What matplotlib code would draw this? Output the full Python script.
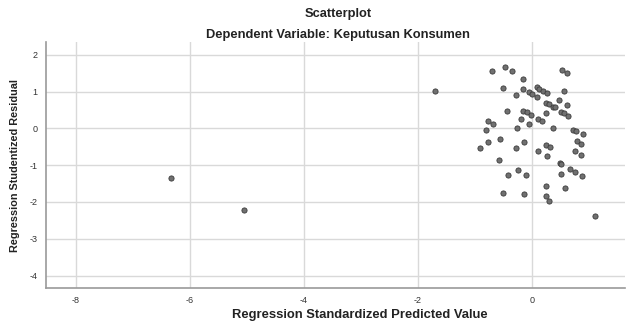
import matplotlib
matplotlib.use("Agg")
import matplotlib.pyplot as plt

title = "Scatterplot"
subtitle = "Dependent Variable: Keputusan Konsumen"
xlabel = "Regression Standardized Predicted Value"
ylabel = "Regression Studentized Residual"

x_ticks = [-8, -6, -4, -2, 0]
y_ticks = [2, 1, 0, -1, -2, -3, -4]

pred = [-0.70, -0.47, -0.35, -0.16, 0.53, 0.62, -0.51, -0.16, -0.29, -0.06,
        0.00, 0.09, 0.13, 0.20, 0.27, 0.08, 0.56, 0.48, 0.24, 0.29,
        0.36, 0.41, 0.62, 0.51, 0.56, 0.63, -0.44, -0.16, -0.09, -0.02,
        0.25, -0.78, -0.69, -0.20, 0.11, 0.18, -0.06, -0.81, -0.26, 0.36,
        0.72, 0.77, 0.89, -0.56, -0.78, -0.15, -0.92, -0.29, 0.25, 0.31,
        0.11, 0.27, 0.78, 0.85, 0.75, 0.85, -0.58, 0.49, 0.51, -0.24,
        -0.42, -0.11, 0.51, 0.66, 0.75, 0.87, 0.25, 0.57, -0.51, -0.15,
        0.24, 0.30, 1.11, -6.33, -5.05, -1.71]
resid = [1.56, 1.68, 1.55, 1.35, 1.59, 1.50, 1.10, 1.06, 0.91, 0.98,
         0.93, 1.12, 1.06, 1.01, 0.96, 0.85, 1.01, 0.76, 0.70, 0.66,
         0.59, 0.57, 0.65, 0.45, 0.43, 0.35, 0.47, 0.48, 0.44, 0.37,
         0.41, 0.21, 0.13, 0.25, 0.25, 0.19, 0.12, -0.05, 0.01, 0.02,
         -0.03, -0.06, -0.16, -0.28, -0.36, -0.36, -0.53, -0.53, -0.45, -0.51,
         -0.60, -0.75, -0.35, -0.42, -0.62, -0.71, -0.85, -0.95, -0.96, -1.14,
         -1.26, -1.27, -1.25, -1.11, -1.18, -1.29, -1.57, -1.61, -1.75, -1.79,
         -1.85, -1.96, -2.38, -1.36, -2.23, 1.03]

plt.rcParams['font.family'] = ['Liberation Sans', 'DejaVu Sans']
plt.rcParams['axes.unicode_minus'] = False

fig = plt.figure(figsize=(6.31, 3.22), dpi=100)
ax = fig.add_axes([45.7/631, 1 - 287.7/322, (625 - 45.7)/631, (287.7 - 42)/322])

ax.scatter(pred, resid, s=14, facecolor='#707070', edgecolor='#3a3a3a',
           linewidths=0.6, zorder=3)

ax.set_xlim(-8.53, 1.63)
ax.set_ylim(-4.33, 2.35)
ax.set_xticks(x_ticks)
ax.set_yticks(y_ticks)
ax.grid(True, color='#d9d9d9', linewidth=1.0, zorder=0)
ax.set_axisbelow(True)
for s in ['top', 'right']:
    ax.spines[s].set_visible(False)
for s in ['left', 'bottom']:
    ax.spines[s].set_color('#9a9a9a')
    ax.spines[s].set_linewidth(1.2)
ax.tick_params(axis='both', length=0, labelsize=6.5, colors='#333333', pad=6)

fig.text(338/631, 1 - 14/322, title, ha='center', va='center',
         fontsize=9.3, fontweight='bold', color='#222222')
fig.text(338/631, 1 - 35/322, subtitle, ha='center', va='center',
         fontsize=9.3, fontweight='bold', color='#222222')
fig.text(360/631, 1 - 315/322, xlabel, ha='center', va='center',
         fontsize=9.4, fontweight='bold', color='#222222')
fig.text(14.7/631, 1 - 166/322, ylabel, ha='center', va='center', rotation=90,
         fontsize=7.8, fontweight='bold', color='#222222')

fig.savefig('out.png', dpi=100)
